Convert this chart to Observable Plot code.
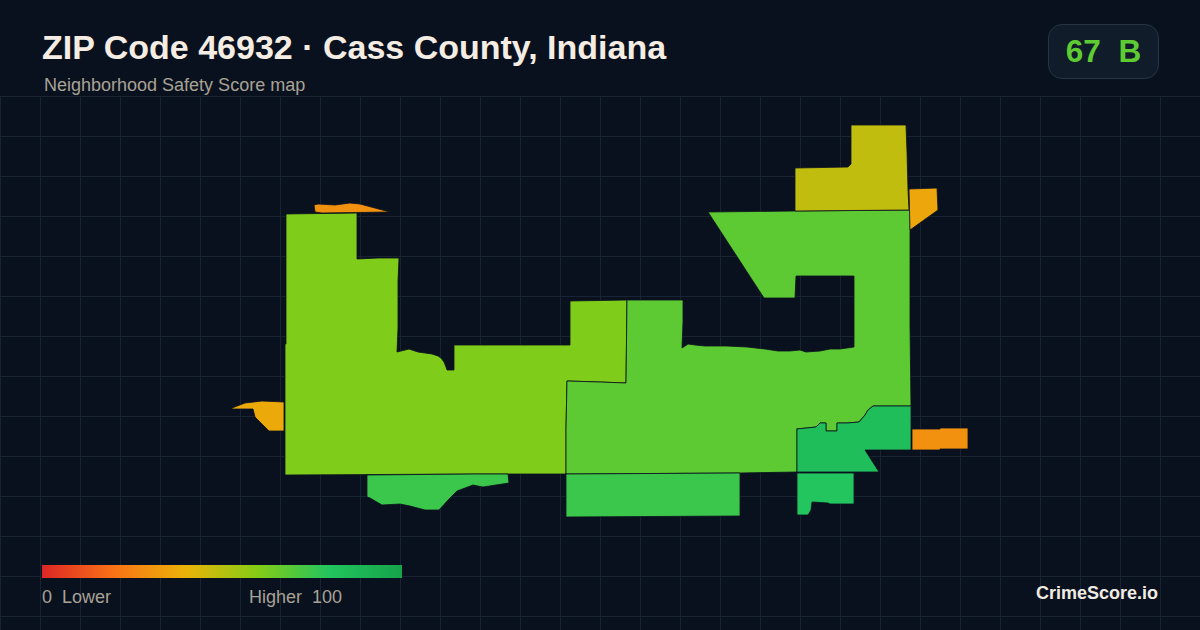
<!DOCTYPE html>
<html>
<head>
<meta charset="utf-8">
<script src="https://cdn.jsdelivr.net/npm/d3@7"></script>
<script src="https://cdn.jsdelivr.net/npm/@observablehq/plot@0.6"></script>
<style>
html,body{margin:0;padding:0;background:#0a111e;width:1200px;height:630px;overflow:hidden}
body{position:relative;font-family:"Liberation Sans",Arial,sans-serif}
#chart{position:absolute;left:0;top:96px}
#chart svg{display:block;background:transparent}
.t{position:absolute;white-space:pre;line-height:1}
#title{left:42px;top:30px;font-size:34px;font-weight:700;color:#f5ede3}
#subtitle{left:44px;top:76px;font-size:18px;color:#a8a296}
#badge{position:absolute;left:1048px;top:24px;width:109px;height:53px;border:1px solid #263444;border-radius:14px;background:#111c2a;display:flex;align-items:center;justify-content:center;color:#5ecb32;font-size:31.5px;font-weight:700;white-space:pre;font-family:"Liberation Sans",Arial,sans-serif}
#bar{position:absolute;left:42px;top:565px;width:360px;height:13px}
#lo{left:42px;top:588px;font-size:18px;color:#a8a296}
#hi{left:249px;top:588px;font-size:18px;color:#a8a296}
#brand{left:1036px;top:584px;font-size:18px;font-weight:700;color:#f0ebe3}
</style>
</head>
<body>
<div id="chart"></div>
<div class="t" id="title">ZIP Code 46932 · Cass County, Indiana</div>
<div class="t" id="subtitle">Neighborhood Safety Score map</div>
<div id="badge">67  B</div>
<div id="bar"></div>
<div class="t" id="lo">0  Lower</div>
<div class="t" id="hi">Higher  100</div>
<div class="t" id="brand">CrimeScore.io</div>
<script>
const scoreStops = [0, 20, 40, 60, 80, 100];
const scoreColors = ["#dc2626", "#f97316", "#eab308", "#84cc16", "#22c55e", "#16a34a"];
const gridX = [0,40,80,120,160,200,240,280,320,360,400,440,480,520,560,600,640,680,720,760,800,840,880,920,960,1000,1040,1080,1120,1160];
const gridY = [96,136,176,216,256,296,336,376,416,456,496,536,576,616];
const regionIds = ["west","central","north","northeast","east","southeast","south","southcentral","southwest","sliver","westTip"];
const regionScores = [61, 68, 48, 36, 29, 84, 80, 75, 75, 29, 37];
const west = [286,214, 357,213, 357,259, 378,258, 399,258, 398,281, 398,328, 397,352, 409,349, 412,350, 418,352, 432,354, 438,356, 441,358, 444,362, 446,367, 447,370, 454,370, 454,345, 570,345, 570,301, 627,300, 626,383, 600,382, 567,381, 566,428, 566,474, 475,474, 285,475, 285,344, 286,344];
const central = [708,212, 795,211, 910,210, 910,230, 910,325, 911,406, 873,406, 868,410, 865,415, 859,422, 847,423, 837,423, 837,431, 826,431, 826,423, 820,423, 816,427, 797,429, 797,472, 740,473, 566,474, 566,428, 567,381, 600,382, 626,383, 627,300, 683,300, 683,322, 682,348, 688,344, 695,345, 705,346, 727,346, 747,347, 765,349, 778,351, 790,351, 800,350, 794,341, 800,350, 806,352, 820,351, 830,349, 840,349, 854,347, 854,276, 796,276, 795,298, 764,298];
const north = [851,125, 906,125, 907,152, 908,190, 909,210, 795,211, 795,168, 848,167, 851,164, 851,135];
const northeast = [909,189, 937,188, 938,210, 910,230];
const east = [912,429, 940,429, 940,428, 968,428, 968,449, 940,449, 940,450, 912,450];
const southeast = [797,429, 816,427, 820,423, 826,423, 826,431, 837,431, 837,423, 847,423, 859,422, 865,415, 868,410, 873,406, 911,406, 911,450, 865,450, 879,472, 797,472];
const south = [797,473, 854,473, 854,504, 830,504, 828,503, 812,502, 811,510, 808,515, 797,515, 797,495];
const southcentral = [566,474, 740,473, 740,516, 566,517];
const southwest = [367,475, 475,474, 508,474, 509,483, 483,487, 473,485, 457,491, 449,499, 439,510, 425,510, 410,506, 400,504, 382,505, 370,498, 367,497];
const sliver = [314,205, 318,204, 335,205, 350,203, 360,204, 375,208, 390,212, 322,213, 315,212];
const westTip = [232,408, 245,403, 262,401, 284,402, 284,431, 269,431, 255,417, 253,409, 232,409];
const outlines = [west, central, north, northeast, east, southeast, south, southcentral, southwest, sliver, westTip];

const points = [];
outlines.forEach((o, r) => {
  for (let i = 0; i <= o.length; i += 2) {
    const k = i % o.length;
    points.push({region: regionIds[r], score: regionScores[r], x: o[k], y: o[k + 1]});
  }
});

const chart = Plot.plot({
  width: 1200, height: 534,
  marginTop: 0, marginRight: 0, marginBottom: 0, marginLeft: 0,
  style: {background: "transparent"},
  x: {domain: [0, 1200], axis: null},
  y: {domain: [630, 96], axis: null},
  color: {type: "linear", domain: scoreStops, range: scoreColors},
  marks: [
    Plot.ruleX(gridX, {stroke: "#182433", strokeWidth: 1}),
    Plot.ruleY(gridY, {stroke: "#182433", strokeWidth: 1}),
    Plot.line(points, {x: "x", y: "y", z: "region", fill: "score", stroke: "#0a111e", strokeWidth: 0.8, curve: "linear", dx: -0.5, dy: -0.5})
  ]
});
document.getElementById("chart").appendChild(chart);
document.getElementById("bar").style.background =
  "linear-gradient(to right," + scoreColors.map((c, i) => c + " " + scoreStops[i] + "%").join(",") + ")";
</script>
</body>
</html>
